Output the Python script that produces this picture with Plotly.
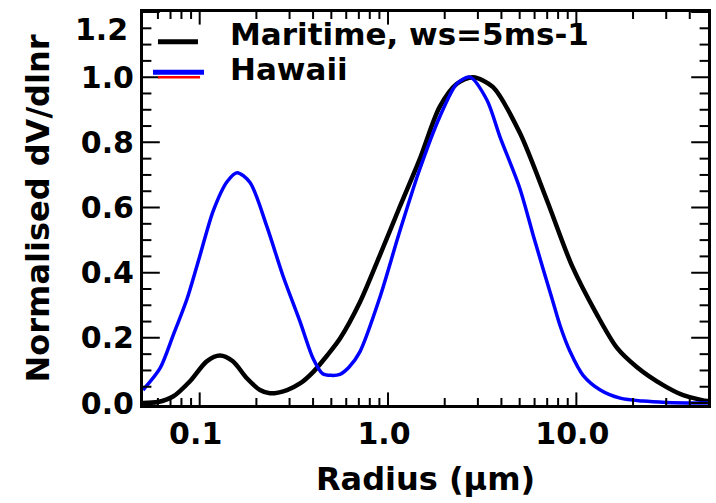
import plotly.graph_objects as go

# Radius (um) and normalised volume distribution dV/dlnr
maritime_r = [0.05, 0.060, 0.0722, 0.0888, 0.109, 0.128, 0.150, 0.178, 0.209, 0.236,
              0.291, 0.341, 0.400, 0.475, 0.556, 0.71, 0.90, 1.15, 1.47, 1.88, 2.32,
              2.83, 3.6, 5.0, 7.0, 9.5, 12.9, 16.4, 21.0, 28.9, 36.9, 46.5, 50.0]
maritime_v = [0.0, 0.003, 0.02, 0.067, 0.128, 0.146, 0.128, 0.076, 0.04, 0.03,
              0.04, 0.06, 0.095, 0.146, 0.198, 0.31, 0.45, 0.60, 0.747, 0.909, 0.98,
              1.0, 0.97, 0.83, 0.62, 0.42, 0.27, 0.17, 0.11, 0.055, 0.024, 0.009, 0.006]

hawaii_r = [0.05, 0.0616, 0.0722, 0.0857, 0.100, 0.118, 0.140, 0.158, 0.185, 0.227,
            0.277, 0.341, 0.400, 0.450, 0.50, 0.555, 0.62, 0.71, 0.90, 1.15, 1.47,
            1.88, 2.32, 2.72, 3.35, 3.93, 5.0, 6.0, 7.43, 8.19, 9.26, 10.86, 13.4,
            17.1, 22.6, 30.0, 50.0]
hawaii_v = [0.04, 0.107, 0.207, 0.32, 0.45, 0.59, 0.68, 0.707, 0.677, 0.543,
            0.39, 0.25, 0.137, 0.09, 0.085, 0.088, 0.11, 0.158, 0.32, 0.524, 0.716,
            0.878, 0.98, 1.0, 0.93, 0.817, 0.66, 0.50, 0.32, 0.238, 0.158, 0.085, 0.04,
            0.015, 0.006, 0.002, 0.0]

series_names = ["Maritime, ws=5ms-1", "Hawaii"]

x_ticks = [0.1, 1.0, 10.0]
x_labels = ["0.1", "1.0", "10.0"]
x_minor = [m * d for d in (0.01, 0.1, 1.0, 10.0) for m in range(2, 10)
           if 0.05 < m * d < 50]
y_ticks = [0.0, 0.2, 0.4, 0.6, 0.8, 1.0, 1.2]
y_labels = ["0.0", "0.2", "0.4", "0.6", "0.8", "1.0", ""]
y_minor = [round(0.05 * k, 2) for k in range(25) if k % 4]
y_top_label = "1.2"

X_MIN, X_MAX = 0.05, 50.0
Y_MIN, Y_MAX = -0.006, 1.2

TICK_FONT = dict(family="DejaVu Sans", size=30, color="black", weight="bold")
TITLE_FONT = dict(family="DejaVu Sans", size=32, color="black", weight="bold")
LEGEND_FONT = dict(family="DejaVu Sans", size=31, color="black", weight="bold")

fig = go.Figure()
fig.add_trace(go.Scatter(x=maritime_r, y=maritime_v, mode="lines",
                         name=series_names[0], showlegend=False,
                         line=dict(color="black", width=4.5, shape="spline",
                                   smoothing=0.8)))
fig.add_trace(go.Scatter(x=hawaii_r, y=hawaii_v, mode="lines",
                         name=series_names[1], showlegend=False,
                         line=dict(color="#0000ff", width=3.5, shape="spline",
                                   smoothing=0.8)))


def frame_ticks(xs, ys, symbol, size):
    """Tick marks on the frame: markers centred on the edge, clipped to the plot
    area so that only the inward half shows."""
    fig.add_trace(go.Scatter(
        x=xs, y=ys, mode="markers", showlegend=False, hoverinfo="skip",
        cliponaxis=True,
        marker=dict(symbol=symbol, size=size, color="black",
                    line=dict(color="black", width=2))))


# bottom and top edges
frame_ticks(x_ticks * 2, [Y_MIN] * len(x_ticks) + [Y_MAX] * len(x_ticks),
            "line-ns-open", 18)
frame_ticks(x_minor * 2, [Y_MIN] * len(x_minor) + [Y_MAX] * len(x_minor),
            "line-ns-open", 10)
# left and right edges
frame_ticks([X_MIN] * len(y_ticks) + [X_MAX] * len(y_ticks), y_ticks * 2,
            "line-ew-open", 24)
frame_ticks([X_MIN] * len(y_minor) + [X_MAX] * len(y_minor), y_minor * 2,
            "line-ew-open", 12)

# Hand-placed key in the upper-left corner of the plot area
key_shapes = [
    dict(type="line", xref="paper", yref="paper", x0=0.0265, x1=0.0973,
         y0=0.924, y1=0.924, line=dict(color="black", width=5)),
    dict(type="line", xref="paper", yref="paper", x0=0.0265, x1=0.101,
         y0=0.834, y1=0.834, line=dict(color="red", width=2.5)),
    dict(type="line", xref="paper", yref="paper", x0=0.0177, x1=0.108,
         y0=0.847, y1=0.847, line=dict(color="#0000ff", width=5)),
]
key_labels = [
    dict(text=series_names[0], xref="paper", yref="paper", x=0.1505, y=0.944,
         xanchor="left", yanchor="middle", showarrow=False, font=LEGEND_FONT),
    dict(text=series_names[1], xref="paper", yref="paper", x=0.1505, y=0.855,
         xanchor="left", yanchor="middle", showarrow=False, font=LEGEND_FONT),
    # top y-axis label sits a little below its tick
    dict(text=y_top_label, xref="paper", yref="y", x=0, y=Y_MAX, xanchor="right",
         yanchor="middle", xshift=-13, yshift=-17, showarrow=False, font=TICK_FONT),
]

fig.update_layout(
    width=716, height=503,
    margin=dict(l=143, r=8, t=12, b=98, autoexpand=False),
    paper_bgcolor="white", plot_bgcolor="white",
    font=TICK_FONT,
    showlegend=False,
    shapes=key_shapes,
    annotations=key_labels,
)
fig.update_xaxes(
    type="log", range=[-1.30103, 1.69897],
    tickmode="array", tickvals=x_ticks, ticktext=x_labels, ticks="",
    tickfont=TICK_FONT, ticklabelshift=-4,
    showline=True, linewidth=3, linecolor="black", mirror=True,
    showgrid=False, zeroline=False,
    title=dict(text="Radius (\u03bcm)", font=TITLE_FONT, standoff=18),
)
fig.update_yaxes(
    range=[Y_MIN, Y_MAX],
    tickmode="array", tickvals=y_ticks, ticktext=y_labels, ticks="",
    tickfont=TICK_FONT,
    showline=True, linewidth=3, linecolor="black", mirror=True,
    showgrid=False, zeroline=False,
    title=dict(text="Normalised dV/dlnr", font=TITLE_FONT, standoff=22),
)

fig.write_html("out.html")
